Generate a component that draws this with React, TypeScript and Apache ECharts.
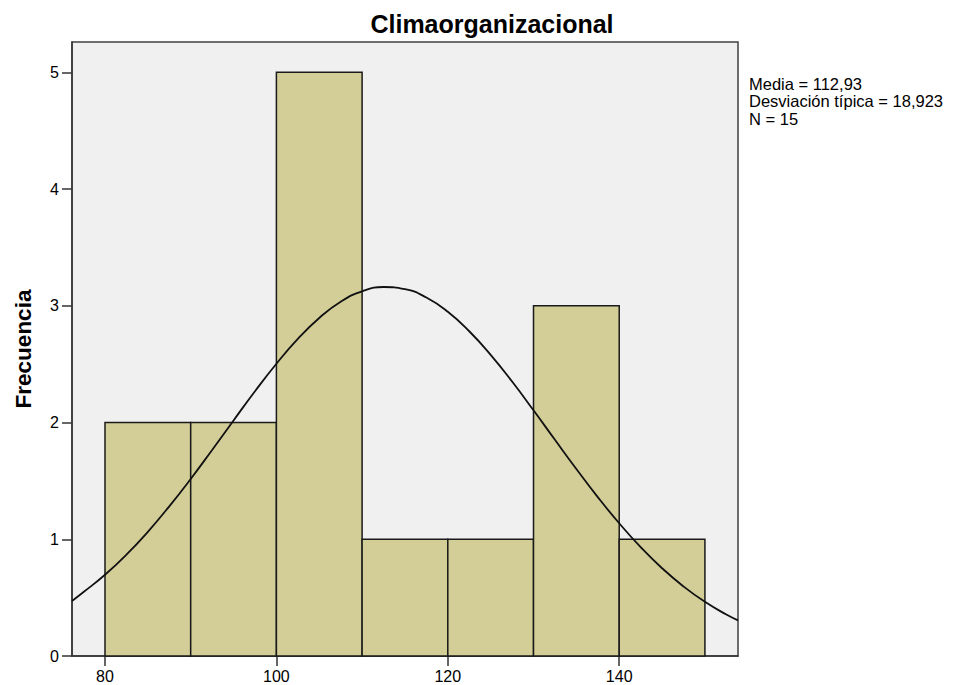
import React, { useEffect, useRef } from "react";
import * as echarts from "echarts";

const binStarts = [80, 90, 100, 110, 120, 130, 140];
const binWidth = 10;
const frequencies = [2, 2, 5, 1, 1, 3, 1];
const curveX = [
  76.15, 77.5, 80, 82.5, 85, 87.5, 90, 92.5, 95, 97.5, 100, 102.5, 105, 107.5, 110, 112.5,
  115, 117.5, 120, 122.5, 125, 127.5, 130, 132.5, 135, 137.5, 140, 142.5, 145, 147.5, 150, 152.5, 153.86,
];
const curveY = [
  0.471, 0.548, 0.696, 0.868, 1.064, 1.282, 1.517, 1.765, 2.018, 2.268, 2.504, 2.717, 2.896, 3.035, 3.124, 3.161,
  3.143, 3.071, 2.949, 2.782, 2.58, 2.351, 2.105, 1.852, 1.602, 1.361, 1.137, 0.933, 0.752, 0.596, 0.464, 0.355, 0.305,
];
const xTicks = [80, 100, 120, 140];
const yTicks = [0, 1, 2, 3, 4, 5];
const statsLines = ["Media = 112,93", "Desviación típica = 18,923", "N = 15"];

export default function App() {
  const ref = useRef<HTMLDivElement>(null);
  useEffect(() => {
    if (!ref.current) return;
    const chart = echarts.init(ref.current, null, { renderer: "svg" });
    const font = "Liberation Sans, Arial, sans-serif";
    const barData = binStarts.map((s, i) => [s, s + binWidth, frequencies[i]]);
    chart.setOption({
      animation: false,
      title: {
        text: "Climaorganizacional",
        left: 487,
        top: 6,
        textAlign: "center",
        textStyle: { fontFamily: font, fontSize: 25, fontWeight: "bold", color: "#000" },
      },
      graphic: [
        {
          type: "text",
          left: 749,
          top: 75,
          style: {
            text: statsLines.join("\n"),
            font: `16.5px ${font}`,
            lineHeight: 17.5,
            fill: "#000",
          },
        },
      ],
      grid: {
        left: 72,
        top: 42,
        width: 666,
        height: 614,
        show: true,
        backgroundColor: "#F0F0F0",
        borderColor: "#404040",
        borderWidth: 1.5,
      },
      xAxis: {
        type: "value",
        min: 76.15,
        max: 153.86,
        splitLine: { show: false },
        axisLine: { show: true, onZero: false, lineStyle: { color: "#333", width: 1.5 } },
        axisTick: {
          show: true,
          length: 10,
          lineStyle: { color: "#333", width: 1.5 },
          customValues: xTicks,
        },
        axisLabel: {
          customValues: xTicks,
          fontFamily: font,
          fontSize: 16,
          color: "#000",
          margin: 12,
        },
      },
      yAxis: {
        type: "value",
        min: 0,
        max: 5.26,
        name: "Frecuencia",
        nameLocation: "middle",
        nameGap: 37,
        nameTextStyle: { fontFamily: font, fontSize: 22.5, fontWeight: "bold", color: "#000" },
        splitLine: { show: false },
        axisLine: { show: true, lineStyle: { color: "#333", width: 1.5 } },
        axisTick: {
          show: true,
          length: 10,
          lineStyle: { color: "#333", width: 1.5 },
          customValues: yTicks,
        },
        axisLabel: {
          customValues: yTicks,
          fontFamily: font,
          fontSize: 16,
          color: "#000",
          margin: 13,
        },
      },
      series: [
        {
          type: "custom",
          data: barData,
          encode: { x: [0, 1], y: 2 },
          renderItem: (params: any, api: any) => {
            const p0 = api.coord([api.value(0), api.value(2)]);
            const p1 = api.coord([api.value(1), 0]);
            return {
              type: "rect",
              shape: { x: p0[0], y: p0[1], width: p1[0] - p0[0], height: p1[1] - p0[1] },
              style: { fill: "#D3CE97", stroke: "#1a1a1a", lineWidth: 1.5 },
            };
          },
          z: 2,
        },
        {
          type: "line",
          data: curveX.map((x, i) => [x, curveY[i]]),
          smooth: true,
          showSymbol: false,
          symbol: "none",
          lineStyle: { color: "#111", width: 1.8 },
          z: 3,
        },
      ],
    });
    return () => chart.dispose();
  }, []);
  return <div ref={ref} style={{ width: 954, height: 685, position: "absolute", left: 0, top: 0 }} />;
}
